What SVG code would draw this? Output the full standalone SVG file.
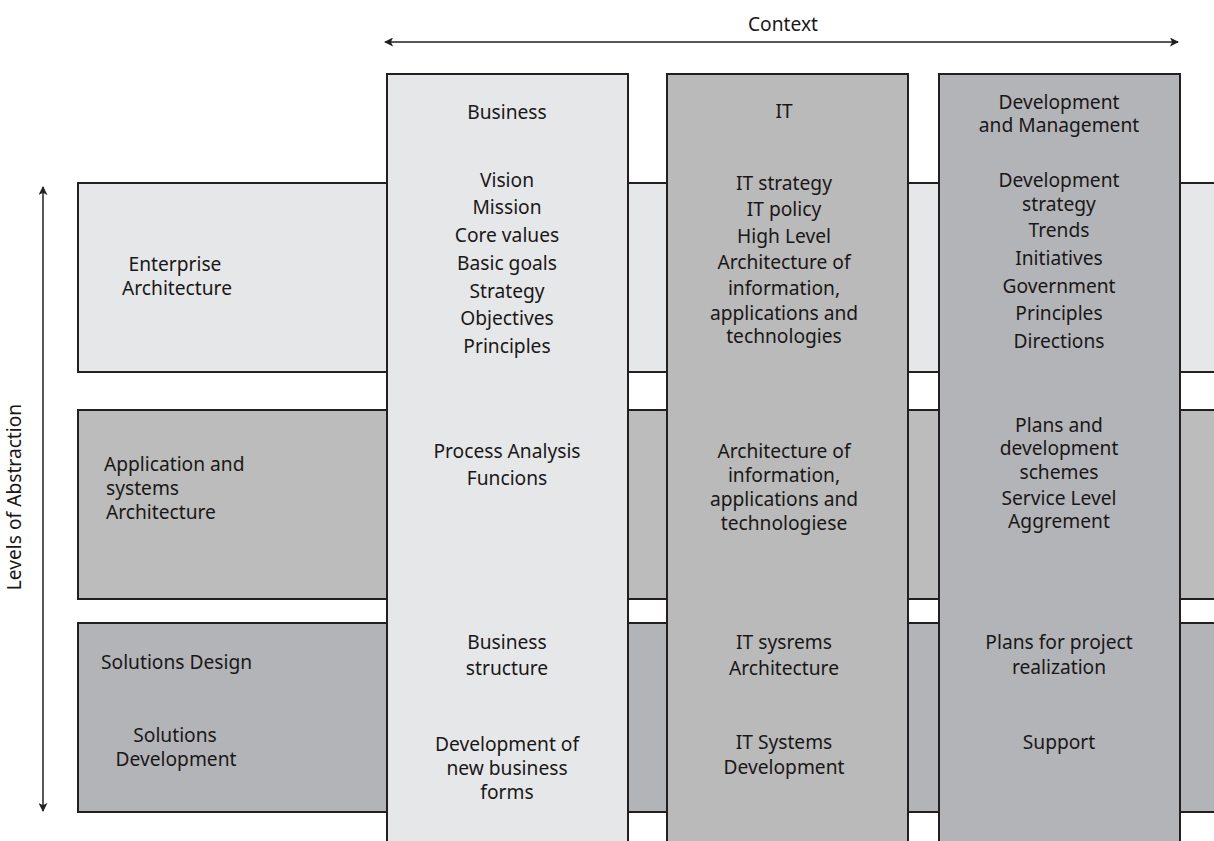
<svg xmlns="http://www.w3.org/2000/svg" width="1214" height="841" viewBox="0 0 1214 841">
<defs>
<style>
.t{font-family:"Noto Sans","Open Sans",sans-serif;font-size:19.2px;fill:#1a1718;text-anchor:middle}
.l{text-anchor:start}
.box{stroke:#231f20;stroke-width:2}
.ax{stroke:#231f20;stroke-width:1.5;fill:none}
</style>
<marker id="ah" viewBox="0 0 10 10" refX="9" refY="5" markerWidth="9" markerHeight="9" markerUnits="userSpaceOnUse" orient="auto-start-reverse">
<path d="M0,0 L10,5 L0,10 L2.5,5 Z" fill="#231f20"/>
</marker>
</defs>
<rect width="1214" height="841" fill="#fff"/>

<g id="row-enterprise">
<rect class="box" x="78" y="183" width="1150" height="189" fill="#e6e7e8"/>
<text class="t" x="175"><tspan x="175" y="271">Enterprise</tspan><tspan x="177" y="295">Architecture</tspan></text>
</g>
<g id="row-application">
<rect class="box" x="78" y="410" width="1150" height="189" fill="#bbbcbb"/>
<text class="t l"><tspan x="104" y="471">Application and</tspan><tspan x="106" y="495">systems</tspan><tspan x="106" y="519">Architecture</tspan></text>
</g>
<g id="row-solutions">
<rect class="box" x="78" y="623" width="1150" height="189" fill="#b3b4b7"/>
<text class="t l" x="101" y="669">Solutions Design</text>
<text class="t"><tspan x="175" y="742">Solutions</tspan><tspan x="176" y="766">Development</tspan></text>
</g>

<g id="col-business">
<rect class="box" x="387" y="74" width="241" height="790" fill="#e6e7e8"/>
<text class="t" x="507" y="119">Business</text>
<text class="t"><tspan x="507" y="187">Vision</tspan><tspan x="507" y="214">Mission</tspan><tspan x="507" y="242">Core values</tspan><tspan x="507" y="270">Basic goals</tspan><tspan x="507" y="298">Strategy</tspan><tspan x="507" y="325">Objectives</tspan><tspan x="507" y="353">Principles</tspan></text>
<text class="t"><tspan x="507" y="458">Process Analysis</tspan><tspan x="507" y="485">Funcions</tspan></text>
<text class="t"><tspan x="507" y="649">Business</tspan><tspan x="507" y="675">structure</tspan></text>
<text class="t"><tspan x="507" y="751">Development of</tspan><tspan x="507" y="775">new business</tspan><tspan x="507" y="799">forms</tspan></text>
</g>

<g id="col-it">
<rect class="box" x="667" y="74" width="241" height="790" fill="#b9bab9"/>
<text class="t" x="784" y="118">IT</text>
<text class="t"><tspan x="784" y="190">IT strategy</tspan><tspan x="784" y="216">IT policy</tspan><tspan x="784" y="243">High Level</tspan><tspan x="784" y="269">Architecture of</tspan><tspan x="784" y="295">information,</tspan><tspan x="784" y="320">applications and</tspan><tspan x="784" y="343">technologies</tspan></text>
<text class="t"><tspan x="784" y="458">Architecture of</tspan><tspan x="784" y="482">information,</tspan><tspan x="784" y="506">applications and</tspan><tspan x="784" y="530">technologiese</tspan></text>
<text class="t"><tspan x="784" y="649">IT sysrems</tspan><tspan x="784" y="675">Architecture</tspan></text>
<text class="t"><tspan x="784" y="749">IT Systems</tspan><tspan x="784" y="774">Development</tspan></text>
</g>

<g id="col-dev">
<rect class="box" x="939" y="74" width="241" height="790" fill="#b3b4b7"/>
<text class="t"><tspan x="1059" y="109">Development</tspan><tspan x="1059" y="132">and Management</tspan></text>
<text class="t"><tspan x="1059" y="187">Development</tspan><tspan x="1059" y="211">strategy</tspan><tspan x="1059" y="237">Trends</tspan><tspan x="1059" y="265">Initiatives</tspan><tspan x="1059" y="293">Government</tspan><tspan x="1059" y="320">Principles</tspan><tspan x="1059" y="348">Directions</tspan></text>
<text class="t"><tspan x="1059" y="432">Plans and</tspan><tspan x="1059" y="455">development</tspan><tspan x="1059" y="479">schemes</tspan><tspan x="1059" y="505">Service Level</tspan><tspan x="1059" y="528">Aggrement</tspan></text>
<text class="t"><tspan x="1059" y="649">Plans for project</tspan><tspan x="1059" y="674">realization</tspan></text>
<text class="t" x="1059" y="749">Support</text>
</g>

<g id="axes">
<line class="ax" x1="385" y1="42" x2="1178" y2="42" marker-start="url(#ah)" marker-end="url(#ah)"/>
<text class="t" x="783" y="31">Context</text>
<line class="ax" x1="43" y1="187" x2="43" y2="811" marker-start="url(#ah)" marker-end="url(#ah)"/>
<text class="t" transform="translate(21,497) rotate(-90)" x="0" y="0">Levels of Abstraction</text>
</g>
</svg>
